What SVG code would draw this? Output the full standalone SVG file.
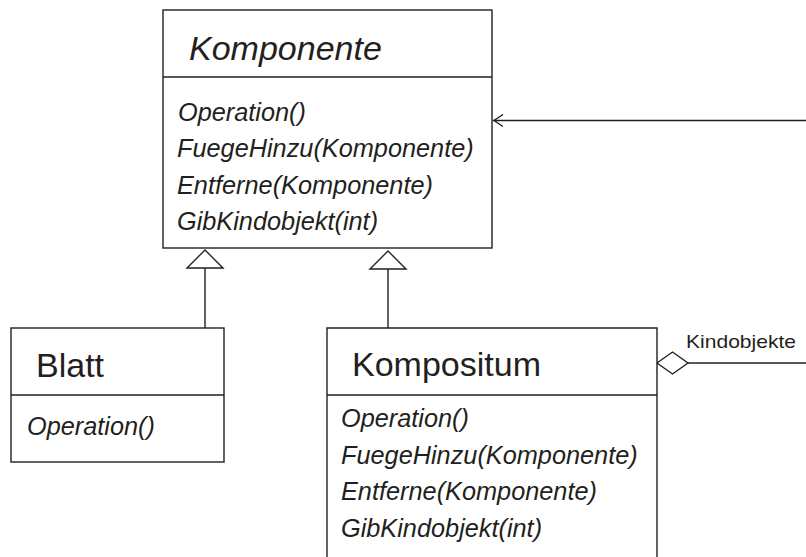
<svg xmlns="http://www.w3.org/2000/svg" width="806" height="557" viewBox="0 0 806 557">
<style>
.box{fill:#fff;stroke:#231f20;stroke-width:1.4}
.ln{fill:none;stroke:#231f20;stroke-width:1.4}
.title{font-family:"Liberation Sans",Arial,sans-serif;font-size:34px;fill:#231f20}
.op{font-family:"Liberation Sans",Arial,sans-serif;font-size:25.3px;font-style:italic;fill:#231f20}
.lbl{font-family:"Liberation Sans",Arial,sans-serif;font-size:19px;fill:#231f20}
</style>
<rect width="806" height="557" fill="#fff"/>
<g id="connectors">
  <line class="ln" x1="205" y1="268" x2="205" y2="328"/>
  <polygon class="box" points="205,250 223,268 187,268"/>
  <line class="ln" x1="388" y1="269" x2="388" y2="328"/>
  <polygon class="box" points="388,251 406,269 370,269"/>
  <line class="ln" x1="493" y1="120.5" x2="806" y2="120.5"/>
  <polyline class="ln" points="503,114.5 494,120.5 503,126.5"/>
  <line class="ln" x1="688" y1="363" x2="806" y2="363"/>
  <polygon class="box" points="657,363 672.5,352 688,363 672.5,374"/>
  <text class="lbl" x="686" y="348" textLength="110" lengthAdjust="spacingAndGlyphs">Kindobjekte</text>
</g>
<g id="komponente">
  <rect class="box" x="163" y="10" width="329" height="238"/>
  <line class="ln" x1="163" y1="77" x2="492" y2="77"/>
  <text class="title" x="189" y="60" font-style="italic">Komponente</text>
  <text class="op" x="178" y="121">Operation()</text>
  <text class="op" x="177" y="157">FuegeHinzu(Komponente)</text>
  <text class="op" x="177" y="194">Entferne(Komponente)</text>
  <text class="op" x="177" y="230">GibKindobjekt(int)</text>
</g>
<g id="blatt">
  <rect class="box" x="11" y="328" width="213" height="134"/>
  <line class="ln" x1="11" y1="395" x2="224" y2="395"/>
  <text class="title" x="36" y="377">Blatt</text>
  <text class="op" x="27" y="435">Operation()</text>
</g>
<g id="kompositum">
  <path class="box" d="M327,560 L327,328 L657,328 L657,560"/>
  <line class="ln" x1="327" y1="395" x2="657" y2="395"/>
  <text class="title" x="352" y="376">Kompositum</text>
  <text class="op" x="341" y="427">Operation()</text>
  <text class="op" x="341" y="464">FuegeHinzu(Komponente)</text>
  <text class="op" x="341" y="500">Entferne(Komponente)</text>
  <text class="op" x="341" y="537">GibKindobjekt(int)</text>
</g>
</svg>
